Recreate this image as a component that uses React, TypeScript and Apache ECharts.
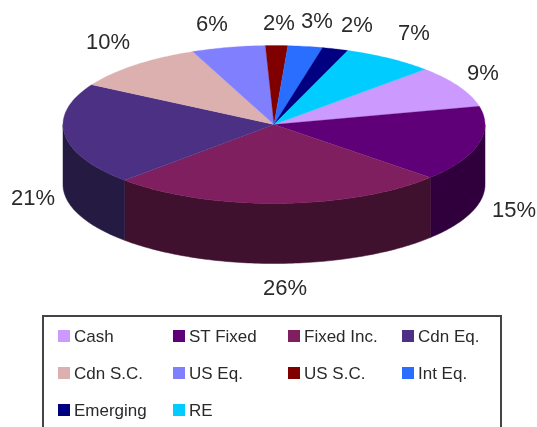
import React, { useEffect, useRef } from "react";
import * as echarts from "echarts";

const categories = ["Cash", "ST Fixed", "Fixed Inc.", "Cdn Eq.", "Cdn S.C.", "US Eq.", "US S.C.", "Int Eq.", "Emerging", "RE"];
const shares = [8.6, 15.45, 25.8, 20.9, 10.3, 5.65, 1.7, 2.65, 2.0, 7.0];
const percentLabels = ["9%", "15%", "26%", "21%", "10%", "6%", "2%", "3%", "2%", "7%"];
const topColors = ["#CC99FF", "#600078", "#801F5F", "#4B3083", "#DDB0B0", "#8080FF", "#800000", "#2A6EFF", "#000080", "#00CCFF"];
const sideColors = ["#664C80", "#30003C", "#40102F", "#251A42", "#6E5858", "#404080", "#400000", "#153780", "#000040", "#006680"];
const labelCentres = [[483, 72], [514, 209], [285, 287], [33, 197], [108, 41], [212, 23], [279, 22], [317, 20], [357, 24], [414, 32]];
const legendColumns = [
  { x: 58, names: ["Cash", "Cdn S.C.", "Emerging"] },
  { x: 173, names: ["ST Fixed", "US Eq.", "RE"] },
  { x: 288, names: ["Fixed Inc.", "US S.C."] },
  { x: 402, names: ["Cdn Eq.", "Int Eq."] },
];

const FIRST_ANGLE = 45.7;
const CX = 274, CY = 124.5, RX = 211, RY = 79, DEPTH = 60;
const total = shares.reduce((a, b) => a + b, 0);
const starts: number[] = [];
shares.reduce((acc, v, i) => { starts[i] = acc; return acc + v; }, 0);

const FONT = '"Liberation Sans", Arial, sans-serif';
const rimPoint = (deg: number, dy = 0) => {
  const r = (deg * Math.PI) / 180;
  return [CX + RX * Math.sin(r), CY - RY * Math.cos(r) + dy];
};
const arc = (a: number, b: number, dy = 0) => {
  const pts: number[][] = [];
  const n = Math.max(2, Math.ceil(Math.abs(b - a)));
  for (let i = 0; i <= n; i++) pts.push(rimPoint(a + ((b - a) * i) / n, dy));
  return pts;
};

const renderSlice = (params: any, api: any) => {
  const i = params.seriesIndex;
  const a0 = FIRST_ANGLE + (starts[i] / total) * 360;
  const a1 = a0 + (api.value(0) / total) * 360;
  const children: any[] = [];
  const s0 = Math.max(a0, 90), s1 = Math.min(a1, 270);
  if (s1 > s0) {
    children.push({
      type: "polygon",
      z2: 1,
      shape: { points: [...arc(s0, s1), ...arc(s1, s0, DEPTH)] },
      style: { fill: sideColors[i], stroke: sideColors[i], lineWidth: 0.5 },
    });
  }
  children.push({
    type: "polygon",
    z2: 2,
    shape: { points: [[CX, CY], ...arc(a0, a1)] },
    style: { fill: topColors[i], stroke: topColors[i], lineWidth: 0.3 },
  });
  children.push({
    type: "text",
    z2: 3,
    x: labelCentres[i][0],
    y: labelCentres[i][1],
    style: { text: percentLabels[i], fontSize: 22, fontFamily: FONT, fill: "#2a2a2a", align: "center", verticalAlign: "middle" },
  });
  return { type: "group", children };
};

export default function App() {
  const ref = useRef<HTMLDivElement>(null);
  useEffect(() => {
    document.body.style.margin = "0";
    const chart = echarts.init(ref.current!, undefined, { renderer: "svg" });
    chart.setOption({
      animation: false,
      backgroundColor: "#ffffff",
      legend: legendColumns.map((c) => ({
        orient: "vertical",
        left: c.x,
        top: 326,
        itemWidth: 12,
        itemHeight: 12,
        itemGap: 17,
        padding: 0,
        icon: "rect",
        selectedMode: false,
        data: c.names,
        textStyle: { fontFamily: FONT, fontSize: 17, color: "#2a2a2a", padding: [0, 0, 0, -1], height: 20, lineHeight: 20 },
      })),
      graphic: [
        {
          type: "polyline",
          shape: { points: [[43, 430], [43, 316], [501, 316], [501, 430]] },
          style: { fill: "none", stroke: "#444444", lineWidth: 2 },
        },
      ],
      series: categories.map((name, i) => ({
        type: "custom",
        name,
        coordinateSystem: "none",
        itemStyle: { color: topColors[i] },
        renderItem: renderSlice,
        data: [[shares[i]]],
      })),
    });
    return () => chart.dispose();
  }, []);
  return <div ref={ref} style={{ width: 537, height: 427, filter: "blur(0.35px)" }} />;
}
